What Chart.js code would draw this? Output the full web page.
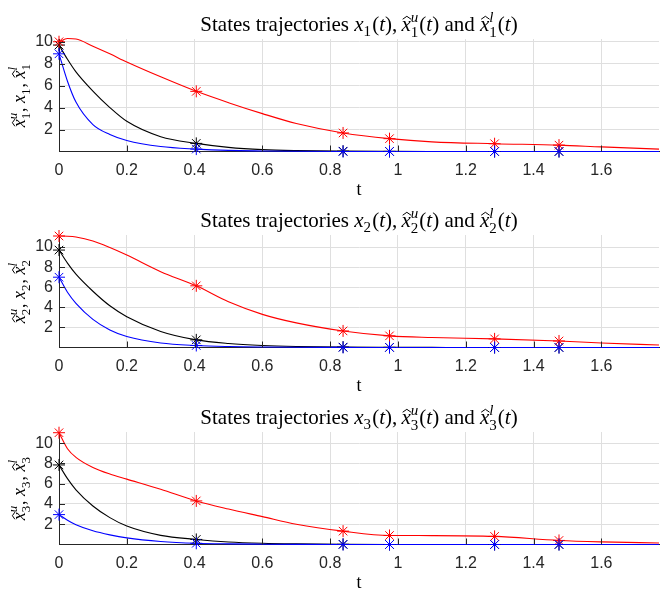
<!DOCTYPE html>
<html>
<head>
<meta charset="utf-8">
<script src="https://cdn.jsdelivr.net/npm/chart.js"></script>
<style>
  body { margin: 0; background: #fff; }
  #wrap { position: relative; width: 666px; height: 590px; }
  canvas { position: absolute; left: 0; }
</style>
</head>
<body>
<div id="wrap">
  <canvas id="c1" width="666" height="197" style="top:0px"></canvas>
  <canvas id="c2" width="666" height="197" style="top:196px"></canvas>
  <canvas id="c3" width="666" height="197" style="top:393px"></canvas>
</div>
<script>
// sample times
var times = [0, 0.025, 0.05, 0.1, 0.15, 0.2, 0.3, 0.405, 0.5, 0.6, 0.7, 0.838, 0.975, 1.1, 1.285, 1.475, 1.6, 1.77];
var markerTimes = [0, 0.405, 0.838, 0.975, 1.285, 1.475];

// panel 1
var x1Upper = [10, 10.3, 10.25, 9.6, 8.9, 8.15, 6.8, 5.48, 4.45, 3.45, 2.55, 1.69, 1.17, 0.88, 0.71, 0.58, 0.42, 0.22];
var x1 = [9.7, 8.4, 7.25, 5.5, 4.0, 2.75, 1.35, 0.74, 0.38, 0.17, 0.08, 0.03, 0.01, 0, 0, 0, 0, 0];
var x1Lower = [8.9, 6.4, 4.5, 2.45, 1.55, 1.0, 0.45, 0.22, 0.1, 0.05, 0.02, 0, 0, 0, 0, 0, 0, 0];
// panel 2
var x2Upper = [11.1, 11.08, 11.0, 10.6, 9.95, 9.2, 7.55, 6.14, 4.55, 3.3, 2.45, 1.65, 1.16, 1.0, 0.86, 0.65, 0.45, 0.25];
var x2 = [9.7, 8.4, 7.3, 5.6, 4.15, 3.07, 1.6, 0.76, 0.4, 0.2, 0.1, 0.04, 0.02, 0.01, 0, 0, 0, 0];
var x2Lower = [7.0, 5.5, 4.4, 2.8, 1.75, 1.1, 0.45, 0.2, 0.1, 0.05, 0.02, 0.01, 0, 0, 0, 0, 0, 0];
// panel 3
var x3Upper = [11.03, 9.45, 8.6, 7.6, 6.95, 6.45, 5.45, 4.3, 3.5, 2.75, 2.0, 1.32, 0.89, 0.88, 0.8, 0.4, 0.26, 0.15];
var x3 = [7.85, 6.5, 5.4, 3.8, 2.65, 1.82, 0.9, 0.5, 0.25, 0.12, 0.06, 0.02, 0, 0, 0, 0, 0, 0];
var x3Lower = [2.95, 2.4, 1.95, 1.35, 0.95, 0.65, 0.3, 0.12, 0.06, 0.03, 0.01, 0, 0, 0, 0, 0, 0, 0];

var xTicks = [0, 0.2, 0.4, 0.6, 0.8, 1, 1.2, 1.4, 1.6];
var yTicks = [2, 4, 6, 8, 10];
var yMax = [10.25, 11.2, 11.1];
var xMax = 1.77;

var SERIF = '"Liberation Serif", "DejaVu Serif", serif';
var SANS = '"Liberation Sans", Arial, sans-serif';
var AXIS = '#262626';

function toPoints(ys) {
    return times.map(function(t, i) { return { x: t, y: ys[i] }; });
}
function toMarkers(ys) {
    return markerTimes.map(function(t) {
        return { x: t, y: ys[times.indexOf(t)] };
    });
}

// little math typesetter: parts are text runs or sub/sup stacks
function partWidth(ctx, p, fs) {
    if (p.sub !== undefined || p.sup !== undefined) {
        var w = 0;
        ctx.font = Math.round(fs * 0.7) + 'px ' + SERIF;
        if (p.sub !== undefined) w = ctx.measureText(p.sub).width;
        ctx.font = 'italic ' + Math.round(fs * 0.7) + 'px ' + SERIF;
        if (p.sup !== undefined) w = Math.max(w, ctx.measureText(p.sup).width);
        return w + fs * 0.05;
    }
    ctx.font = (p.it ? 'italic ' : '') + fs + 'px ' + SERIF;
    return ctx.measureText(p.s).width;
}

function drawMath(ctx, parts, x, y, fs) {
    var total = 0;
    parts.forEach(function(p) { total += partWidth(ctx, p, fs); });
    var cx = x - total / 2;
    ctx.fillStyle = '#000';
    ctx.strokeStyle = '#000';
    ctx.textAlign = 'left';
    ctx.textBaseline = 'alphabetic';
    parts.forEach(function(p) {
        var w = partWidth(ctx, p, fs);
        if (p.sub !== undefined || p.sup !== undefined) {
            var both = p.sub !== undefined && p.sup !== undefined;
            if (p.sub !== undefined) {
                ctx.font = Math.round(fs * 0.7) + 'px ' + SERIF;
                ctx.fillText(p.sub, cx, y + fs * (both ? 0.3 : 0.25));
            }
            if (p.sup !== undefined) {
                ctx.font = 'italic ' + Math.round(fs * 0.7) + 'px ' + SERIF;
                ctx.fillText(p.sup, cx, y - fs * 0.42);
            }
        } else {
            ctx.font = (p.it ? 'italic ' : '') + fs + 'px ' + SERIF;
            ctx.fillText(p.s, cx, y);
            if (p.hat) {
                var hx = cx + w * 0.58;
                ctx.beginPath();
                ctx.lineWidth = 1;
                ctx.moveTo(hx - fs * 0.2, y - fs * 0.56);
                ctx.lineTo(hx, y - fs * 0.7);
                ctx.lineTo(hx + fs * 0.2, y - fs * 0.56);
                ctx.stroke();
            }
        }
        cx += w;
    });
}

function titleParts(n) {
    return [
        { s: 'States trajectories ' }, { s: 'x', it: 1 }, { sub: n }, { s: '(' }, { s: 't', it: 1 }, { s: '),\u2009' },
        { s: 'x', it: 1, hat: 1 }, { sub: n, sup: 'u' }, { s: '(' }, { s: 't', it: 1 }, { s: ') and ' },
        { s: 'x', it: 1, hat: 1 }, { sub: n, sup: 'l' }, { s: '(' }, { s: 't', it: 1 }, { s: ')' }
    ];
}
function ylabelParts(n) {
    return [
        { s: 'x', it: 1, hat: 1 }, { sub: n, sup: 'u' }, { s: ', ' },
        { s: 'x', it: 1 }, { sub: n }, { s: ', ' },
        { s: 'x', it: 1, hat: 1 }, { sub: n, sup: 'l' }
    ];
}

function panelPlugin(n) {
    return {
        id: 'panel' + n,
        afterDraw: function(chart) {
            var ctx = chart.ctx;
            var a = chart.chartArea;
            var xs = chart.scales.x, ys = chart.scales.y;
            ctx.save();
            // inward tick marks
            ctx.strokeStyle = AXIS;
            ctx.lineWidth = 1;
            ctx.beginPath();
            xTicks.forEach(function(t) {
                var px = Math.round(xs.getPixelForValue(t)) + 0.5;
                ctx.moveTo(px, a.bottom);
                ctx.lineTo(px, a.bottom - 6);
            });
            yTicks.forEach(function(v) {
                var py = Math.round(ys.getPixelForValue(v)) + 0.5;
                ctx.moveTo(a.left, py);
                ctx.lineTo(a.left + 6, py);
            });
            ctx.stroke();
            // title
            drawMath(ctx, titleParts(String(n)), (a.left + a.right) / 2, 31, 21);
            // x label
            ctx.font = '18px ' + SERIF;
            ctx.fillStyle = '#000';
            ctx.textAlign = 'center';
            ctx.fillText('t', (a.left + a.right) / 2, 195);
            // y label
            ctx.translate(25, (a.top + a.bottom) / 2);
            ctx.rotate(-Math.PI / 2);
            drawMath(ctx, ylabelParts(String(n)), 0, 0, 18);
            ctx.restore();
        }
    };
}

function makePanel(id, n, upper, mid, lower, ymax) {
    var series = [
        { data: mid, color: '#000000', order: 3 },
        { data: upper, color: '#ff0000', order: 2 },
        { data: lower, color: '#0000ff', order: 1 }
    ];
    var datasets = [];
    series.forEach(function(s) {
        datasets.push({
            data: toPoints(s.data),
            showLine: true,
            borderColor: s.color,
            borderWidth: 1.1,
            pointRadius: 0,
            cubicInterpolationMode: 'monotone',
            clip: false,
            order: s.order + 3
        });
        datasets.push({
            data: toMarkers(s.data),
            showLine: false,
            pointStyle: 'star',
            pointRadius: 6,
            borderColor: s.color,
            backgroundColor: s.color,
            pointBorderWidth: 1,
            clip: false,
            order: s.order
        });
    });

    return new Chart(document.getElementById(id), {
        type: 'scatter',
        data: { datasets: datasets },
        options: {
            responsive: false,
            animation: false,
            devicePixelRatio: 1,
            layout: { padding: { top: 39, left: 0, right: 0, bottom: 0 } },
            plugins: { legend: { display: false }, tooltip: { enabled: false } },
            scales: {
                x: {
                    type: 'linear',
                    min: 0,
                    max: xMax,
                    afterBuildTicks: function(axis) {
                        axis.ticks = xTicks.map(function(v) { return { value: v }; });
                    },
                    afterFit: function(axis) { axis.height = 196 - 150.5; },
                    grid: { color: '#dfdfdf', drawTicks: false },
                    border: { color: AXIS, width: 1 },
                    ticks: {
                        padding: 9,
                        color: AXIS,
                        font: { family: SANS, size: 16 },
                        maxRotation: 0,
                        callback: function(v) { return String(+v.toFixed(1)); }
                    }
                },
                y: {
                    type: 'linear',
                    min: 0,
                    max: ymax,
                    afterBuildTicks: function(axis) {
                        axis.ticks = yTicks.map(function(v) { return { value: v }; });
                    },
                    afterFit: function(axis) { axis.width = 59; },
                    grid: { color: '#dfdfdf', drawTicks: false },
                    border: { color: AXIS, width: 1 },
                    ticks: {
                        padding: 6,
                        color: AXIS,
                        font: { family: SANS, size: 16 }
                    }
                }
            }
        },
        plugins: [panelPlugin(n)]
    });
}

makePanel('c1', 1, x1Upper, x1, x1Lower, yMax[0]);
makePanel('c2', 2, x2Upper, x2, x2Lower, yMax[1]);
makePanel('c3', 3, x3Upper, x3, x3Lower, yMax[2]);
</script>
</body>
</html>
